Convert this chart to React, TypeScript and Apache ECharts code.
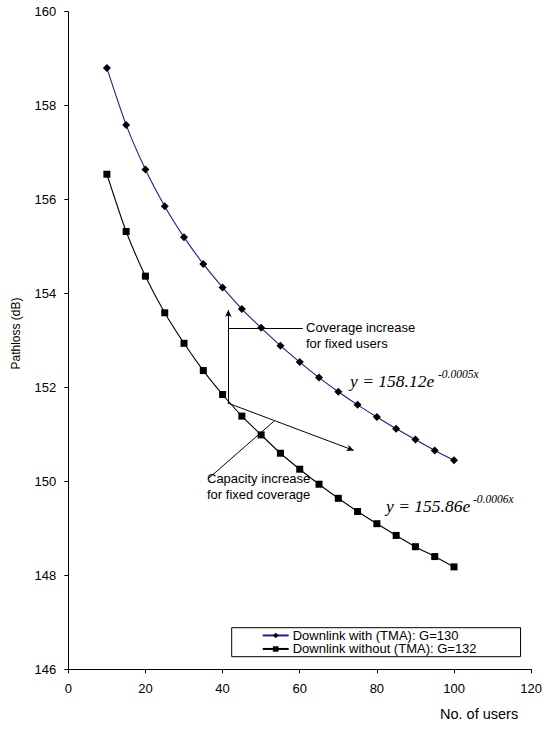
import React, { useEffect, useRef } from "react";
import * as echarts from "echarts";

const users = [10, 15, 20, 25, 30, 35, 40, 45, 50, 55, 60, 65, 70, 75, 80, 85, 90, 95, 100];
const withTMA = [158.8, 157.59, 156.64, 155.86, 155.2, 154.63, 154.13, 153.67, 153.27, 152.89, 152.54, 152.21, 151.91, 151.63, 151.37, 151.12, 150.89, 150.66, 150.45];
const withoutTMA = [156.54, 155.32, 154.37, 153.59, 152.94, 152.36, 151.85, 151.39, 150.99, 150.6, 150.26, 149.94, 149.64, 149.36, 149.1, 148.85, 148.61, 148.4, 148.18];
const xTicks = { min: 0, max: 120, interval: 20 };
const yTicks = { min: 146, max: 160, interval: 2 };
const seriesNames = ["Downlink with (TMA): G=130", "Downlink without (TMA): G=132"];

// annotation segments in data coordinates
const coverageArrow = [[41.5, 151.67], [41.5, 153.65]];
const coverageLeader = [[41.5, 153.26], [60.8, 153.26]];
const capacityArrow = [[41.3, 151.67], [74.0, 150.66]];
const capacityLeader = [[36.3, 150.06], [53.3, 151.28]];

const FONT = "Liberation Sans";
const SERIF = "Liberation Serif";

export default function App() {
  const ref = useRef<HTMLDivElement>(null);
  useEffect(() => {
    if (!ref.current) return;
    const chart = echarts.init(ref.current, undefined, { renderer: "svg" });
    const seg = (pts: number[][], arrow: boolean) => [
      { coord: pts[0], symbol: "none" },
      { coord: pts[1], symbol: arrow ? "arrow" : "none" },
    ];
    chart.setOption({
      animation: false,
      grid: { left: 68.3, right: 11.7, top: 11.7, bottom: 59.7, containLabel: false },
      xAxis: {
        type: "value",
        min: xTicks.min,
        max: xTicks.max,
        interval: xTicks.interval,
        name: "No. of users",
        nameLocation: "end",
        nameGap: 0,
        nameTextStyle: { fontFamily: FONT, fontSize: 14.5, color: "#000", align: "right", verticalAlign: "top", padding: [37, 13, 0, 0] },
        axisLine: { lineStyle: { color: "#000", width: 1 } },
        axisTick: { show: true, length: 4, inside: false, lineStyle: { color: "#000" } },
        axisLabel: { fontFamily: FONT, fontSize: 13, color: "#000", margin: 13 },
        splitLine: { show: false },
      },
      yAxis: {
        type: "value",
        min: yTicks.min,
        max: yTicks.max,
        interval: yTicks.interval,
        name: "Pathloss (dB)",
        nameLocation: "middle",
        nameGap: 46,
        nameRotate: 90,
        nameTextStyle: { fontFamily: FONT, fontSize: 12, color: "#000", padding: [0, 0, 0, 14] },
        axisLine: { show: true, lineStyle: { color: "#000", width: 1 } },
        axisTick: { show: true, length: 4, inside: false, lineStyle: { color: "#000" } },
        axisLabel: { fontFamily: FONT, fontSize: 13, color: "#000", margin: 12 },
        splitLine: { show: false },
      },
      legend: {
        left: 231.7,
        top: 627.7,
        orient: "vertical",
        itemWidth: 26,
        itemHeight: 7,
        itemGap: 0,
        padding: [1, 44, 1, 30],
        borderColor: "#000",
        borderWidth: 1,
        borderRadius: 0,
        backgroundColor: "#fff",
        textStyle: { fontFamily: FONT, fontSize: 13, color: "#000", lineHeight: 13.5, padding: [0, 0, 0, -1] },
        data: seriesNames,
      },
      series: [
        {
          name: seriesNames[0],
          type: "line",
          data: users.map((u, i) => [u, withTMA[i]]),
          smooth: 0.2,
          symbol: "diamond",
          symbolSize: [8, 8],
          lineStyle: { color: "#1c1c96", width: 1.1 },
          itemStyle: { color: "#000" },
          emphasis: { disabled: true },
          z: 3,
        },
        {
          name: seriesNames[1],
          type: "line",
          data: users.map((u, i) => [u, withoutTMA[i]]),
          smooth: 0.2,
          symbol: "rect",
          symbolSize: 7,
          lineStyle: { color: "#000", width: 1.1 },
          itemStyle: { color: "#000" },
          emphasis: { disabled: true },
          z: 3,
          markLine: {
            silent: true,
            symbol: "none",
            symbolSize: [5, 7],
            label: { show: false },
            emphasis: { disabled: true },
            lineStyle: { color: "#000", width: 1, type: "solid" },
            data: [
              seg(coverageArrow, true),
              seg(coverageLeader, false),
              seg(capacityArrow, true),
              seg(capacityLeader, false),
            ],
          },
        },
      ],
      graphic: [
        {
          type: "text",
          left: 306,
          top: 319,
          style: { text: "Coverage increase\nfor fixed users", fontFamily: FONT, fontSize: 13, lineHeight: 16.5, fill: "#000" },
        },
        {
          type: "text",
          left: 207,
          top: 470,
          style: { text: "Capacity increase\nfor fixed coverage", fontFamily: FONT, fontSize: 13, lineHeight: 16.5, fill: "#000" },
        },
        {
          type: "text",
          left: 350,
          top: 372,
          style: { text: "y = 158.12e", fontFamily: SERIF, fontStyle: "italic", fontSize: 17.5, fill: "#000" },
        },
        {
          type: "text",
          left: 438,
          top: 368,
          style: { text: "-0.0005x", fontFamily: SERIF, fontStyle: "italic", fontSize: 11.5, fill: "#000" },
        },
        {
          type: "text",
          left: 386,
          top: 497,
          style: { text: "y = 155.86e", fontFamily: SERIF, fontStyle: "italic", fontSize: 17.5, fill: "#000" },
        },
        {
          type: "text",
          left: 473,
          top: 493,
          style: { text: "-0.0006x", fontFamily: SERIF, fontStyle: "italic", fontSize: 11.5, fill: "#000" },
        },
      ],
    });
    return () => chart.dispose();
  }, []);
  return (
    <div
      ref={ref}
      style={{ position: "fixed", left: 0, top: 0, width: 545, height: 729, background: "#fff" }}
    />
  );
}
